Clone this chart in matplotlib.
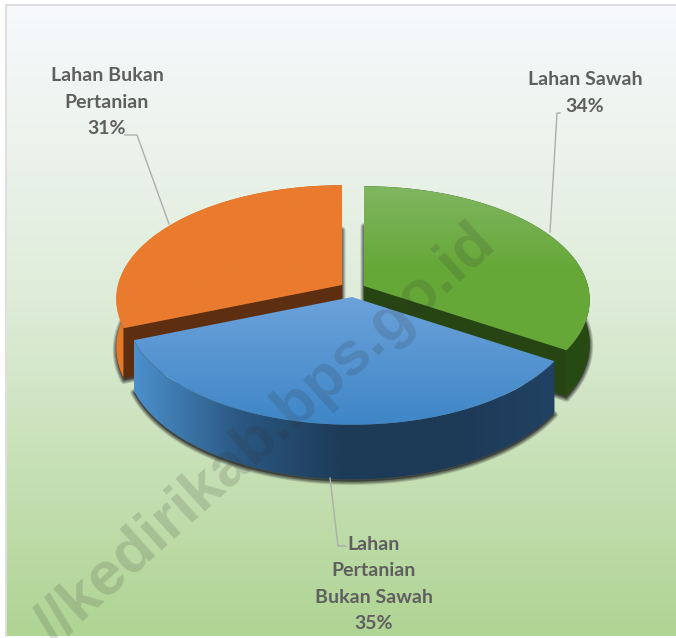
import numpy as np
import matplotlib
matplotlib.use('Agg')
import matplotlib.pyplot as plt
from matplotlib.colors import LinearSegmentedColormap
from matplotlib.patches import Polygon

# data
labels = ['Lahan Sawah', 'Lahan\nPertanian\nBukan Sawah', 'Lahan Bukan\nPertanian']
values = [34, 35, 31]

W, H = 676, 638
A, B, P = 224, 112, 0.123   # pie ellipse + perspective

fig = plt.figure(figsize=(W / 100, H / 100), dpi=100)
ax = fig.add_axes([0, 0, 1, 1])
ax.axis('off')


def ring(cx, cy, t0, t1, depth=0, n=120):
    # clockwise from 12 o'clock, returns screen points of the rim
    t = np.radians(np.linspace(t0, t1, n))
    u, v = np.sin(t), np.cos(t)
    s = 1 / (1 + P * v)
    return np.column_stack([cx + A * u * s, cy - B * v * s + depth * s])


def fill_grad(pts, colors, extent, vertical=True):
    # gradient image clipped to a polygon
    cmap = LinearSegmentedColormap.from_list('g', colors)
    g = np.linspace(0, 1, 256)
    g = g[:, None] if vertical else g[None, :]
    im = ax.imshow(g, cmap=cmap, extent=extent, aspect='auto', interpolation='bilinear', zorder=3)
    poly = Polygon(pts, closed=True, transform=ax.transData, fc='none', ec='none')
    ax.add_patch(poly)
    im.set_clip_path(poly)


def shadow(pts):
    # soft shadow: stacked strokes getting thinner
    for lw in [5, 3.5, 2.5, 1.5]:
        ax.add_patch(Polygon(pts + [0, 2], closed=True, fc='#222222', ec='#222222', lw=lw,
                             alpha=0.2, joinstyle='round', zorder=2))


# background
bg = LinearSegmentedColormap.from_list('bg', [(0, '#F7F9FD'), (0.47, '#DEECD8'), (1, '#AFD493')])
ax.imshow(np.linspace(0, 1, 256)[:, None], cmap=bg, extent=(7, W, 636, 5), aspect='auto', zorder=0)
ax.plot([6, 6, W], [636, 4.5, 4.5], color='#D9D9D9', lw=1.2, zorder=1)

# slices: start/end angles come from the values
edges = np.cumsum([0] + values) / sum(values) * 360
tips = [(364, 286), (352, 297), (342, 285)]
depths = [43, 48, 48]
tops = [['#80B660', '#66A838', '#66A838'], ['#6CA2DA', '#3E86C7'], ['#EA7B2E', '#EA7B2E']]
walls = [['#274A13', '#274A13'],
         ['#4C90CC', '#2A5882', '#1D3A57', '#1D3A57', '#214263'],
         ['#E67A2A', '#C86C24', '#B9641F']]
cuts = ['#274512', None, '#5E2E10']

# draw order: green, orange, then blue lying over both
for i in [0, 2, 1]:
    cx, cy = tips[i]
    d = depths[i]
    t0, t1 = edges[i], edges[i + 1]
    rim = ring(cx, cy, t0, t1)
    low = ring(cx, cy, t0, t1, d)
    tip = np.array([cx, cy])
    tip_low = np.array([cx, cy + d])

    shadow(np.vstack([tip_low, low]))

    wall = np.vstack([rim, low[::-1]])
    fill_grad(wall, walls[i], (wall[:, 0].min(), wall[:, 0].max(), 0, H), vertical=False)

    if cuts[i]:
        k = -1 if i == 0 else 0
        face = [tip, rim[k], low[k], tip_low]
        ax.add_patch(Polygon(face, closed=True, fc=cuts[i], ec=cuts[i], lw=0.5, zorder=3))

    top = np.vstack([tip, rim])
    fill_grad(top, tops[i], (0, W, top[:, 1].max(), top[:, 1].min()))

# labels
label_pos = [(585, 93), (374, 584), (107, 102)]
for name, val, (x, y) in zip(labels, values, label_pos):
    ax.text(x, y, f'{name}\n{val}%', ha='center', va='center', family='Lato', weight='bold',
            fontsize=14, color='#5F5F5F', linespacing=1.68, zorder=6)

# leader lines
ax.plot([125, 137, 169], [135, 135, 224], color='#ADADAD', lw=1, zorder=5)
ax.plot([560, 557, 550], [113, 113, 232], color='#ADADAD', lw=1, zorder=5)
ax.plot([330, 338, 346], [478, 546, 546], color='#ADADAD', lw=1, zorder=5)

# watermark, runs off the bottom edge like the original
ax.text(266, 435, '//kedirikab.bps.go.id', rotation=42, rotation_mode='anchor', ha='center', va='center',
        family='Liberation Sans', weight='bold', fontsize=44.5, color='#303030', alpha=0.16, zorder=7)

ax.set_xlim(0, W)
ax.set_ylim(H, 0)
fig.savefig('out.png', dpi=100)
